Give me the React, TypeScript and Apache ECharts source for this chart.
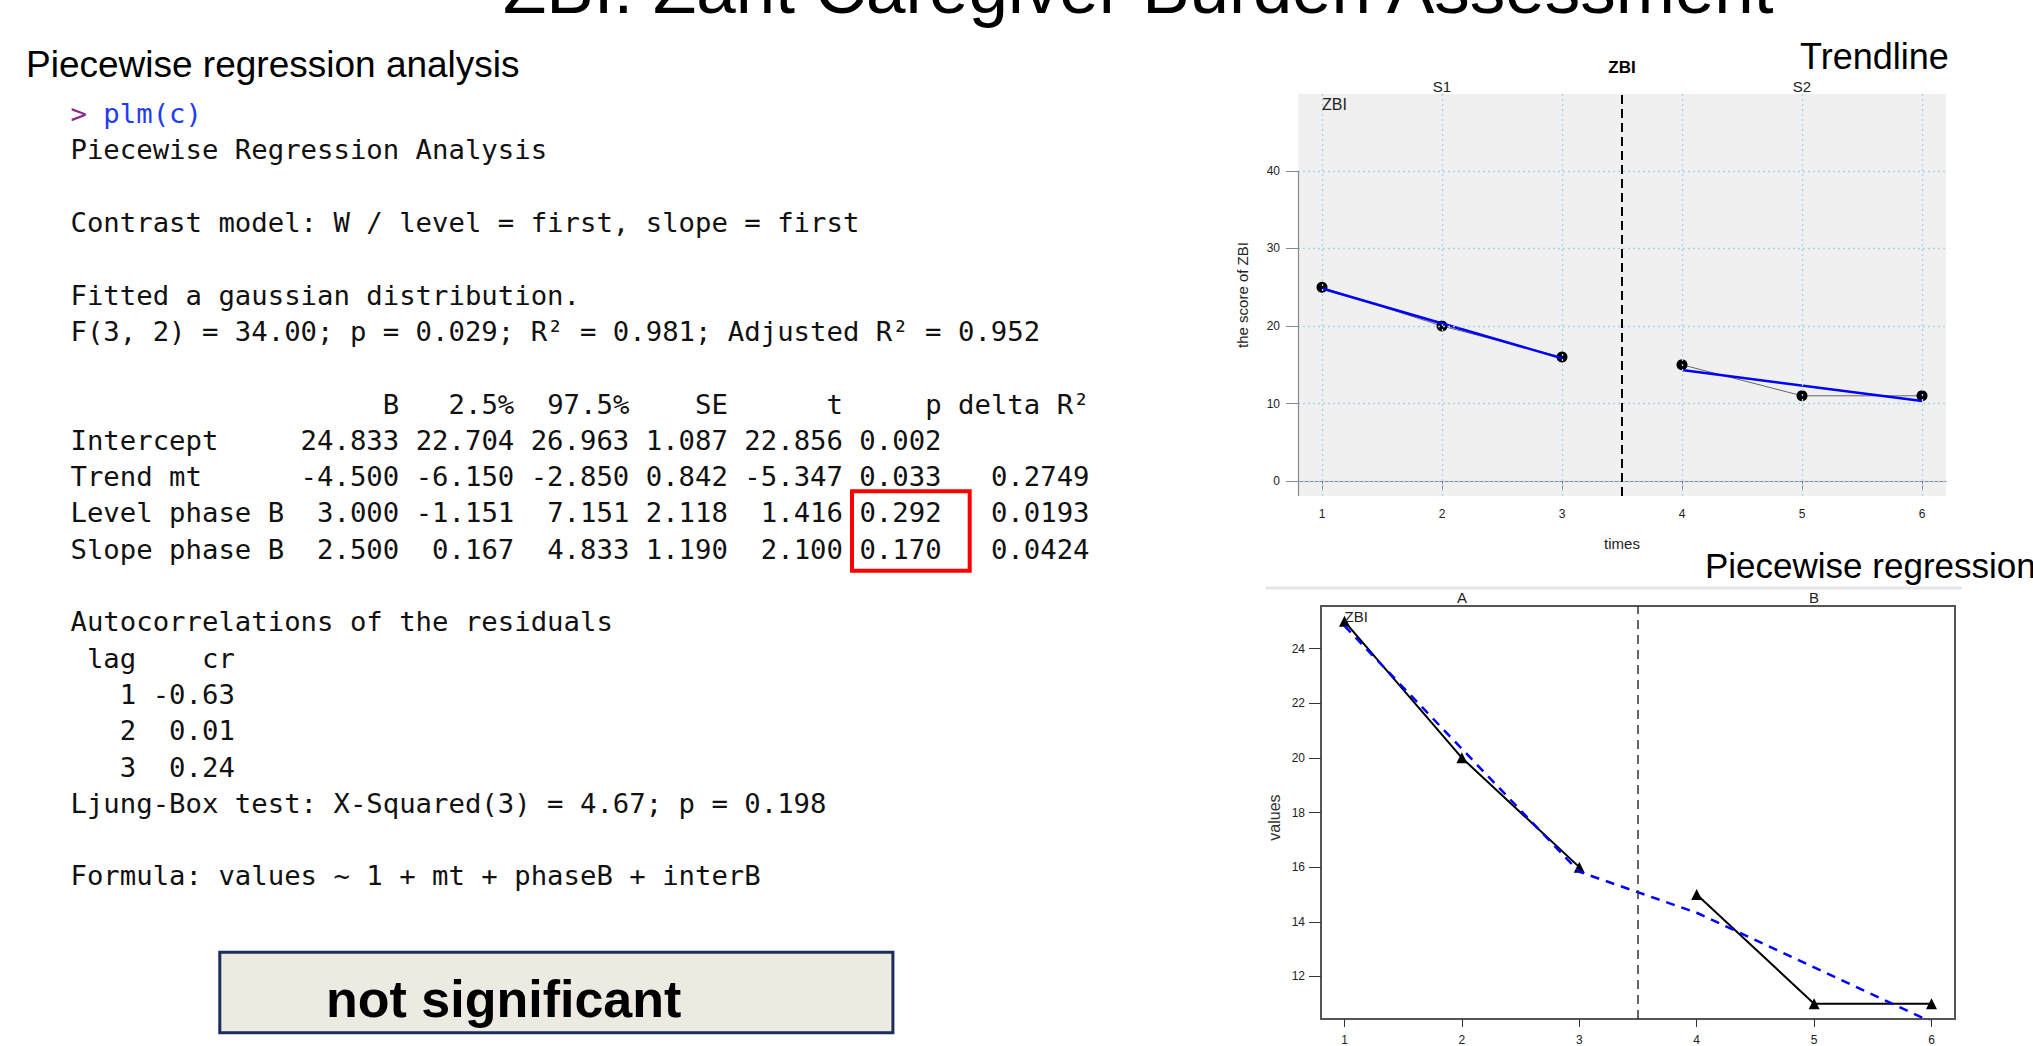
import React, { useEffect, useRef } from 'react';
import * as echarts from 'echarts';

const SANS = '"Liberation Sans", Arial, Helvetica, sans-serif';
const MONO = '"DejaVu Sans Mono", monospace';

// ---------- texts ----------
const slideTitle = 'ZBI: Zarit Caregiver Burden Assessment';
const leftHeading = 'Piecewise regression analysis';
const promptSymbol = '>';
const promptCall = 'plm(c)';
const verdict = 'not significant';

// ---------- regression table ----------
const tableHeader = ['B', '2.5%', '97.5%', 'SE', 't', 'p', 'delta R²'];
const tableRowNames = ['Intercept', 'Trend mt', 'Level phase B', 'Slope phase B'];
const colB = ['24.833', '-4.500', '3.000', '2.500'];
const colLow = ['22.704', '-6.150', '-1.151', '0.167'];
const colHigh = ['26.963', '-2.850', '7.151', '4.833'];
const colSE = ['1.087', '0.842', '2.118', '1.190'];
const colT = ['22.856', '-5.347', '1.416', '2.100'];
const colP = ['0.002', '0.033', '0.292', '0.170'];
const colDeltaR2 = ['', '0.2749', '0.0193', '0.0424'];

const acfLags = ['1', '2', '3'];
const acfValues = ['-0.63', '0.01', '0.24'];

// ---------- chart data ----------
const xTicks = [1, 2, 3, 4, 5, 6];
const topYTicks = [0, 10, 20, 30, 40];
const bottomYTicks = [12, 14, 16, 18, 20, 22, 24];
const phaseATimes = [1, 2, 3];
const phaseBTimes = [4, 5, 6];
const zbiPhaseA = [25, 20, 16];
const zbiPhaseB = [15, 11, 11];
const trendATimes = [1, 3];
const trendAValues = [24.83, 15.83];
const trendBTimes = [4, 6];
const trendBValues = [14.33, 10.33];
const fitTimes = [1, 2, 3, 4, 5, 6];
const fitValues = [24.83, 20.33, 15.83, 14.33, 12.33, 10.33];
const phaseChange = 3.5;
const topPhaseLabels = ['S1', 'S2'];
const topPhaseCenters = [2, 5];
const bottomPhaseLabels = ['A', 'B'];
const bottomPhaseCenters = [2, 5];

const X_MIN = 0.8;
const X_MAX = 6.2;
const TOP_Y_MIN = -1.92;
const TOP_Y_MAX = 49.92;
const BOT_Y_MIN = 10.44;
const BOT_Y_MAX = 25.56;

const TOP_GRID = { left: 1298, top: 94, width: 648, height: 402 };
const BOT_GRID = { left: 1321, top: 606, width: 634, height: 419 };

const zip = (xs: number[], ys: number[]) => xs.map((x, i) => [x, ys[i]]);

function buildConsoleLines(): string[] {
  const cols = [colB, colLow, colHigh, colSE, colT, colP, colDeltaR2];
  const widths = cols.map((c, i) => Math.max(tableHeader[i].length, ...c.map((v) => v.length)));
  const nameW = Math.max(...tableRowNames.map((n) => n.length));
  const header = ' '.repeat(nameW) + tableHeader.map((h, i) => ' ' + h.padStart(widths[i])).join('');
  const rows = tableRowNames.map(
    (n, r) => n.padEnd(nameW) + cols.map((c, i) => ' ' + c[r].padStart(widths[i])).join('')
  );
  const acfHeader = ' lag' + ' ' + 'cr'.padStart(5);
  const acfRows = acfLags.map((l, i) => l.padStart(4) + ' ' + acfValues[i].padStart(5));
  return [
    '',
    'Piecewise Regression Analysis',
    '',
    'Contrast model: W / level = first, slope = first',
    '',
    'Fitted a gaussian distribution.',
    'F(3, 2) = 34.00; p = 0.029; R² = 0.981; Adjusted R² = 0.952',
    '',
    header,
    ...rows,
    '',
    'Autocorrelations of the residuals',
    acfHeader,
    ...acfRows,
    'Ljung-Box test: X-Squared(3) = 4.67; p = 0.198',
    '',
    'Formula: values ~ 1 + mt + phaseB + interB',
  ];
}

function segments(line: string) {
  const out: { col: number; text: string }[] = [];
  const re = /\S+(?: \S+)*/g;
  let m: RegExpExecArray | null;
  while ((m = re.exec(line))) out.push({ col: m.index, text: m[0] });
  return out;
}

function App() {
  const ref = useRef<HTMLDivElement>(null);

  useEffect(() => {
    if (!ref.current) return;
    const chart = echarts.init(ref.current, null, { renderer: 'svg' });

    const topPx = (v: number) => TOP_GRID.left + ((v - X_MIN) / (X_MAX - X_MIN)) * TOP_GRID.width;
    const botPx = (v: number) => BOT_GRID.left + ((v - X_MIN) / (X_MAX - X_MIN)) * BOT_GRID.width;

    const graphics: any[] = [];
    const text = (
      x: number,
      y: number,
      t: string,
      o: { size: number; family?: string; weight?: any; fill?: string; align?: string; rotation?: number }
    ) => {
      graphics.push({
        type: 'text',
        x,
        y,
        rotation: o.rotation || 0,
        silent: true,
        z: 20,
        style: {
          text: t,
          fontSize: o.size,
          fontFamily: o.family || SANS,
          fontWeight: o.weight || 'normal',
          fill: o.fill || '#000',
          textAlign: o.align || 'left',
          align: o.align || 'left',
          textVerticalAlign: 'middle',
          verticalAlign: 'middle',
        },
      });
    };

    // slide title (cut by the top edge, as in the slide)
    text(503, -12, slideTitle, { size: 71 });
    // left heading
    text(26, 64, leftHeading, { size: 37 });

    // console output
    const MONO_SIZE = 27.3;
    const CW = 0.60205 * MONO_SIZE;
    const X0 = 70.5;
    const lineY = (k: number) => 113.6 + 36.3 * k;
    text(X0, lineY(0), promptSymbol, { size: MONO_SIZE, family: MONO, fill: '#8a2b8c' });
    text(X0 + 2 * CW, lineY(0), promptCall, { size: MONO_SIZE, family: MONO, fill: '#1f3cf5' });
    buildConsoleLines().forEach((line, k) => {
      segments(line).forEach((s) =>
        text(X0 + s.col * CW, lineY(k), s.text, { size: MONO_SIZE, family: MONO, fill: '#111' })
      );
    });

    // red highlight box
    graphics.push({
      type: 'rect',
      silent: true,
      z: 21,
      shape: { x: 852, y: 491.3, width: 117.7, height: 79.4 },
      style: { fill: 'none', stroke: '#ff0000', lineWidth: 4 },
    });

    // verdict box
    graphics.push({
      type: 'rect',
      silent: true,
      z: 19,
      shape: { x: 219.8, y: 952.2, width: 673.1, height: 80.6 },
      style: { fill: '#edebe1', stroke: '#1b2d5c', lineWidth: 3 },
    });
    text(326, 999, verdict, { size: 52, weight: 'bold' });

    // top chart texts
    text(1800, 56, 'Trendline', { size: 36 });
    text(topPx(phaseChange), 67, 'ZBI', { size: 17, weight: 'bold', align: 'center' });
    topPhaseLabels.forEach((l, i) =>
      text(topPx(topPhaseCenters[i]), 86, l, { size: 15, align: 'center', fill: '#222' })
    );
    text(topPx(1), 104, 'ZBI', { size: 16, fill: '#222' });
    text(1242.5, TOP_GRID.top + TOP_GRID.height / 2, 'the score of ZBI', {
      size: 15,
      align: 'center',
      rotation: Math.PI / 2,
      fill: '#222',
    });
    text(topPx(phaseChange), 543, 'times', { size: 15, align: 'center', fill: '#222' });

    // bottom chart texts
    graphics.push({
      type: 'line',
      silent: true,
      z: 5,
      shape: { x1: 1266, y1: 588, x2: 1962, y2: 588 },
      style: { stroke: '#e6e6ea', lineWidth: 3 },
    });
    text(1705, 565, 'Piecewise regression', { size: 35 });
    bottomPhaseLabels.forEach((l, i) =>
      text(botPx(bottomPhaseCenters[i]), 597, l, { size: 15, align: 'center', fill: '#222' })
    );
    text(botPx(1), 616, 'ZBI', { size: 15, fill: '#222' });
    text(1274, BOT_GRID.top + BOT_GRID.height / 2 + 2, 'values', {
      size: 16,
      align: 'center',
      rotation: Math.PI / 2,
      fill: '#333',
    });

    const gridLineStyle = { color: '#a5d4e8', type: [2, 3], width: 1.3 };
    const dotStyle = { color: '#000', borderWidth: 0, opacity: 1 };

    const option: any = {
      animation: false,
      backgroundColor: '#ffffff',
      grid: [
        {
          ...TOP_GRID,
          show: true,
          backgroundColor: '#f0f0f0',
          borderWidth: 0,
          containLabel: false,
        },
        {
          ...BOT_GRID,
          show: true,
          backgroundColor: '#ffffff',
          borderColor: '#555',
          borderWidth: 2,
          containLabel: false,
        },
      ],
      xAxis: [
        {
          type: 'value',
          gridIndex: 0,
          min: X_MIN,
          max: X_MAX,
          axisLine: { show: true, lineStyle: { color: '#888', width: 1.2 } },
          axisTick: { show: true, customValues: xTicks, length: 10, lineStyle: { color: '#888' } },
          axisLabel: { customValues: xTicks, fontSize: 12, color: '#222', margin: 12, fontFamily: SANS },
          splitLine: { show: false },
        },
        {
          type: 'value',
          gridIndex: 1,
          min: X_MIN,
          max: X_MAX,
          axisLine: { show: false },
          axisTick: { show: true, customValues: xTicks, length: 8, lineStyle: { color: '#333' } },
          axisLabel: { customValues: xTicks, fontSize: 12, color: '#222', margin: 15, fontFamily: SANS },
          splitLine: { show: false },
        },
      ],
      yAxis: [
        {
          type: 'value',
          gridIndex: 0,
          min: TOP_Y_MIN,
          max: TOP_Y_MAX,
          axisLine: { show: false },
          axisTick: { show: true, customValues: topYTicks, length: 12, lineStyle: { color: '#888' } },
          axisLabel: { customValues: topYTicks, fontSize: 12, color: '#222', margin: 18, fontFamily: SANS },
          splitLine: { show: false },
        },
        {
          type: 'value',
          gridIndex: 1,
          min: BOT_Y_MIN,
          max: BOT_Y_MAX,
          axisLine: { show: false },
          axisTick: { show: true, customValues: bottomYTicks, length: 12, lineStyle: { color: '#333' } },
          axisLabel: { customValues: bottomYTicks, fontSize: 12, color: '#222', margin: 16, fontFamily: SANS },
          splitLine: { show: false },
        },
      ],
      series: [
        // top chart: grid lines, axis line and phase line
        {
          type: 'line',
          xAxisIndex: 0,
          yAxisIndex: 0,
          data: zip(phaseATimes, zbiPhaseA),
          symbol: 'none',
          lineStyle: { opacity: 0, width: 0 },
          silent: true,
          z: 1,
          markLine: {
            silent: true,
            symbol: ['none', 'none'],
            label: { show: false },
            animation: false,
            data: [
              ...xTicks.map((v) => ({ xAxis: v, lineStyle: gridLineStyle })),
              ...topYTicks.map((v) => ({ yAxis: v, lineStyle: gridLineStyle })),
              [
                { coord: [X_MIN, topYTicks[topYTicks.length - 1]], lineStyle: { color: '#888', width: 1.2, type: 'solid' } },
                { coord: [X_MIN, TOP_Y_MIN] },
              ],
              { xAxis: phaseChange, lineStyle: { color: '#000', width: 2, type: [9, 5] } },
            ],
          },
        },
        {
          name: 'ZBI S1',
          type: 'line',
          xAxisIndex: 0,
          yAxisIndex: 0,
          data: zip(phaseATimes, zbiPhaseA),
          symbol: 'circle',
          symbolSize: 11,
          showAllSymbol: true,
          itemStyle: dotStyle,
          lineStyle: { color: '#666', width: 1 },
          z: 3,
        },
        {
          name: 'ZBI S2',
          type: 'line',
          xAxisIndex: 0,
          yAxisIndex: 0,
          data: zip(phaseBTimes, zbiPhaseB),
          symbol: 'circle',
          symbolSize: 11,
          showAllSymbol: true,
          itemStyle: dotStyle,
          lineStyle: { color: '#666', width: 1 },
          z: 3,
        },
        {
          name: 'Trend S1',
          type: 'line',
          xAxisIndex: 0,
          yAxisIndex: 0,
          data: zip(trendATimes, trendAValues),
          symbol: 'none',
          lineStyle: { color: '#0000ff', width: 2.5 },
          z: 4,
        },
        {
          name: 'Trend S2',
          type: 'line',
          xAxisIndex: 0,
          yAxisIndex: 0,
          data: zip(trendBTimes, trendBValues),
          symbol: 'none',
          lineStyle: { color: '#0000ff', width: 2.5 },
          z: 4,
        },
        // bottom chart
        {
          name: 'ZBI A',
          type: 'line',
          xAxisIndex: 1,
          yAxisIndex: 1,
          data: zip(phaseATimes, zbiPhaseA),
          symbol: 'triangle',
          symbolSize: 11,
          itemStyle: dotStyle,
          lineStyle: { color: '#000', width: 2 },
          z: 3,
          markLine: {
            silent: true,
            symbol: ['none', 'none'],
            label: { show: false },
            animation: false,
            data: [{ xAxis: phaseChange, lineStyle: { color: '#333', width: 1.5, type: [9, 6] } }],
          },
        },
        {
          name: 'ZBI B',
          type: 'line',
          xAxisIndex: 1,
          yAxisIndex: 1,
          data: zip(phaseBTimes, zbiPhaseB),
          symbol: 'triangle',
          symbolSize: 11,
          itemStyle: dotStyle,
          lineStyle: { color: '#000', width: 2 },
          z: 3,
        },
        {
          name: 'Piecewise fit',
          type: 'line',
          xAxisIndex: 1,
          yAxisIndex: 1,
          data: zip(fitTimes, fitValues),
          symbol: 'none',
          lineStyle: { color: '#0000ff', width: 2.5, type: [9, 7] },
          z: 4,
          clip: true,
        },
      ],
      graphic: graphics,
    };

    chart.setOption(option);
    return () => chart.dispose();
  }, []);

  return (
    <div
      ref={ref}
      style={{ position: 'absolute', left: 0, top: 0, width: 2033, height: 1046, overflow: 'hidden' }}
    />
  );
}

export default App;
